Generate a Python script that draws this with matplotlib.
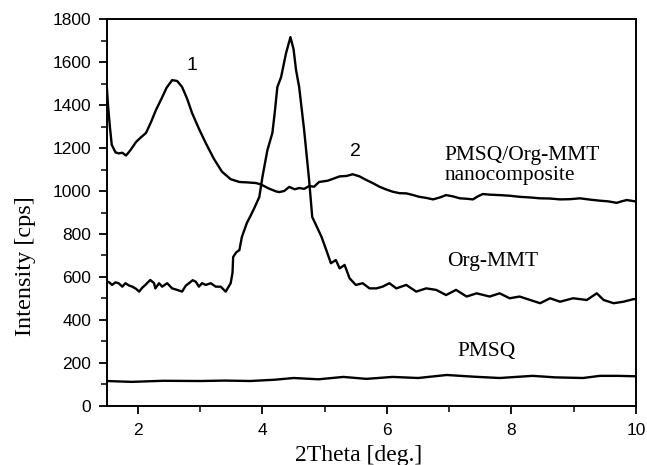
import matplotlib
matplotlib.use("Agg")
import matplotlib.pyplot as plt
from matplotlib.ticker import MultipleLocator

# PMSQ/Org-MMT nanocomposite
nano_x = [1.50, 1.52, 1.55, 1.58, 1.64, 1.69, 1.75, 1.81, 1.88, 1.97, 2.05, 2.13, 2.21, 2.29,
          2.38, 2.46, 2.55, 2.63, 2.71, 2.79, 2.87, 2.98, 3.09, 3.22, 3.35, 3.49, 3.63, 3.76,
          3.90, 3.98, 4.10, 4.22, 4.27, 4.35, 4.43, 4.52, 4.59, 4.67, 4.75, 4.83, 4.91, 5.05,
          5.24, 5.35, 5.45, 5.56, 5.67, 5.77, 5.88, 5.98, 6.09, 6.20, 6.31, 6.41, 6.52, 6.63,
          6.74, 6.85, 6.95, 7.06, 7.17, 7.28, 7.38, 7.46, 7.54, 7.65, 7.81, 7.97, 8.13, 8.30,
          8.46, 8.62, 8.78, 8.94, 9.10, 9.26, 9.42, 9.55, 9.69, 9.77, 9.85, 9.92, 10.0]
nano_y = [1490, 1400, 1300, 1215, 1180, 1175, 1178, 1165, 1190, 1228, 1250, 1270, 1320, 1377,
          1430, 1480, 1516, 1512, 1484, 1430, 1363, 1290, 1223, 1150, 1090, 1055, 1042, 1040,
          1037, 1030, 1012, 998, 995, 1000, 1019, 1008, 1014, 1010, 1023, 1020, 1042, 1048,
          1068, 1070, 1078, 1068, 1051, 1037, 1020, 1008, 997, 990, 989, 982, 973, 968,
          961, 970, 981, 975, 966, 964, 961, 975, 986, 983, 981, 978, 973, 970,
          966, 965, 961, 962, 966, 960, 955, 952, 945, 952, 958, 955, 951]

# Org-MMT
org_x = [1.50, 1.54, 1.585, 1.64, 1.69, 1.75, 1.80, 1.86, 1.91, 1.97, 2.02, 2.07, 2.12, 2.16,
         2.20, 2.26, 2.28, 2.34, 2.39, 2.47, 2.55, 2.63, 2.71, 2.77, 2.82, 2.88, 2.93, 2.98,
         3.03, 3.09, 3.17, 3.25, 3.33, 3.41, 3.49, 3.52, 3.53, 3.58, 3.63, 3.67, 3.75, 3.81,
         3.87, 3.95, 4.00, 4.08, 4.16, 4.20, 4.24, 4.30, 4.38, 4.45, 4.50, 4.54, 4.59, 4.67,
         4.75, 4.80, 4.88, 4.95, 5.02, 5.10, 5.18, 5.24, 5.32, 5.40, 5.50, 5.61, 5.72, 5.83,
         5.93, 6.04, 6.15, 6.31, 6.47, 6.63, 6.79, 6.95, 7.11, 7.28, 7.44, 7.65, 7.81, 7.97,
         8.13, 8.30, 8.46, 8.62, 8.78, 8.99, 9.21, 9.37, 9.48, 9.64, 9.80, 9.96, 10.0]
org_y = [580, 575, 563, 575, 571, 555, 571, 560, 555, 545, 532, 550, 563, 575,
         586, 571, 547, 571, 555, 571, 547, 540, 532, 560, 571, 585, 578, 555,
         571, 563, 571, 555, 555, 532, 571, 620, 693, 715, 725, 786, 851, 885,
         921, 972, 1065, 1190, 1270, 1370, 1484, 1530, 1642, 1716, 1660, 1563, 1484, 1284,
         1051, 879, 830, 786, 730, 664, 679, 640, 656, 594, 563, 571, 547, 547,
         555, 571, 547, 563, 532, 547, 540, 516, 540, 509, 524, 509, 524, 501,
         509, 493, 478, 501, 485, 501, 493, 524, 493, 478, 485, 497, 497]

# PMSQ
pmsq_x = [1.50, 1.90, 2.40, 3.00, 3.40, 3.80, 4.20, 4.50, 4.90, 5.30, 5.67, 6.09, 6.50, 6.96,
          7.40, 7.81, 8.34, 8.70, 9.15, 9.42, 9.70, 10.0]
pmsq_y = [116, 112, 117, 116, 118, 116, 122, 130, 124, 135, 126, 135, 130, 144,
          136, 130, 140, 133, 130, 140, 140, 138]

fig = plt.figure(figsize=(6.47, 4.65), dpi=100)
ax = fig.add_axes([0.165, 0.127, 0.818, 0.832])

lw = 1.7
ax.plot(nano_x, nano_y, color="black", lw=lw)
ax.plot(org_x, org_y, color="black", lw=lw)
ax.plot(pmsq_x, pmsq_y, color="black", lw=lw)

ax.set_xlim(1.5, 10)
ax.set_ylim(0, 1800)
ax.xaxis.set_major_locator(MultipleLocator(2))
ax.xaxis.set_minor_locator(MultipleLocator(1))
ax.yaxis.set_major_locator(MultipleLocator(200))
ax.yaxis.set_minor_locator(MultipleLocator(100))
ax.tick_params(which="major", direction="out", length=6, width=1.3,
               labelsize=12.5, top=False, right=False)
ax.tick_params(axis="x", which="major", pad=6)
ax.tick_params(axis="y", which="major", pad=5)
ax.tick_params(which="minor", direction="out", length=4, width=1.1,
               top=False, right=False)
for lab in ax.get_xticklabels() + ax.get_yticklabels():
    lab.set_fontfamily("Liberation Sans")
for s in ax.spines.values():
    s.set_linewidth(1.4)

serif = "Liberation Serif"
fig.text(359 / 647, 1 - 455 / 465, "2Theta [deg.]", fontfamily=serif, fontsize=17,
         ha="center", va="center")
fig.text(25 / 647, 1 - 266 / 465, "Intensity [cps]", fontfamily=serif, fontsize=17.5,
         rotation=90, ha="center", va="center")

ax.text(2.87, 1586, "1", fontfamily="Liberation Sans", fontsize=14, ha="center", va="center")
ax.text(5.49, 1185, "2", fontfamily="Liberation Sans", fontsize=14, ha="center", va="center")
ax.text(6.93, 1165, "PMSQ/Org-MMT", fontfamily=serif, fontsize=15.5, ha="left", va="center")
ax.text(6.93, 1074, "nanocomposite", fontfamily=serif, fontsize=15.5, ha="left", va="center")
ax.text(6.97, 672, "Org-MMT", fontfamily=serif, fontsize=15.5, ha="left", va="center")
ax.text(7.14, 252, "PMSQ", fontfamily=serif, fontsize=15.5, ha="left", va="center")

fig.savefig("out.png", dpi=100)
